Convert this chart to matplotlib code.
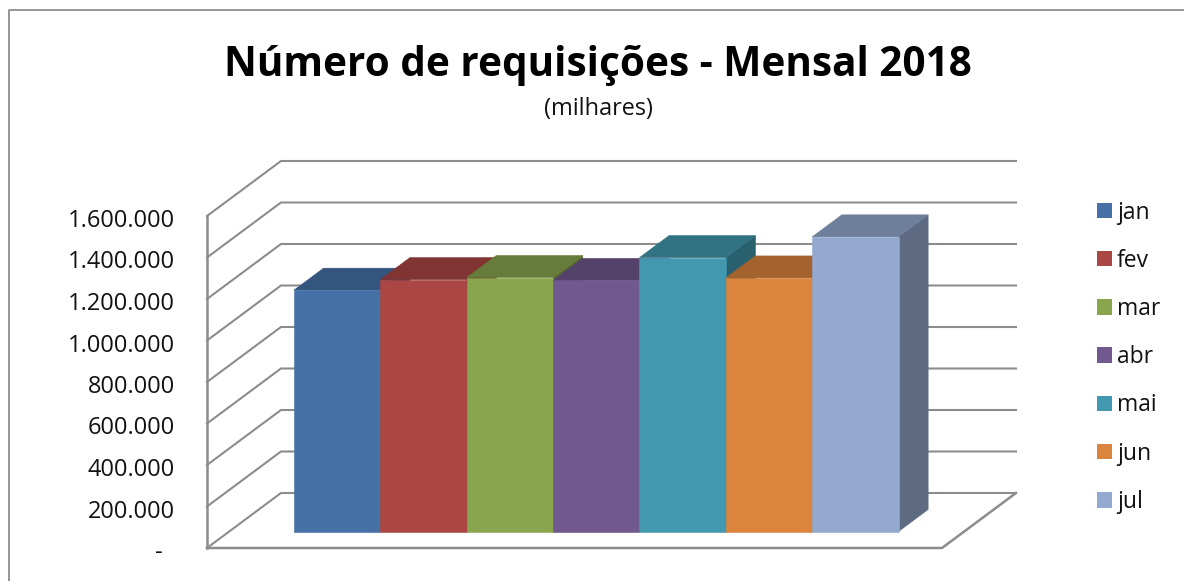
import matplotlib
matplotlib.use("Agg")

import matplotlib.pyplot as plt
from matplotlib import transforms as mtrans
from matplotlib.colors import to_rgb
from matplotlib.lines import Line2D
from matplotlib.patches import Patch, Polygon

months = ["jan", "fev", "mar", "abr", "mai", "jun", "jul"]
requests = [1163000, 1214000, 1224000, 1210000, 1320000, 1222000, 1420000]
colors = ["#4571A6", "#AA4643", "#89A54E", "#71588F", "#4198AF", "#DB843D", "#93A9CF"]
ticks = [0, 200000, 400000, 600000, 800000, 1000000, 1200000, 1400000, 1600000]
tick_labels = ["-  ", "200.000", "400.000", "600.000", "800.000", "1.000.000",
               "1.200.000", "1.400.000", "1.600.000"]

W, H = 1184, 581
GRID = "#8C8C8C"

# oblique depth of the fake 3d box, in data units per full floor depth
DEPTH_X = 74 / 86.4
DEPTH_Y = 55 / 41.5 * 200000
BAR_FRONT = 0.30
BAR_BACK = 0.70

plt.rcParams["font.family"] = ["Open Sans", "DejaVu Sans"]


def shade(color, factor):
    return tuple(c * factor for c in to_rgb(color))


def at_depth(x, y, depth):
    return x + depth * DEPTH_X, y + depth * DEPTH_Y


fig = plt.figure(figsize=(W / 100, H / 100), dpi=100)
ax = fig.add_axes([207 / W, (H - 548) / H, (942 - 207) / W, (548 - 216) / H])
ax.set_xlim(-0.75, 7.76)
ax.set_ylim(0, 1600000)
for spine in ax.spines.values():
    spine.set_visible(False)
ax.set_xticks([])
ax.set_yticks(ticks)
ax.set_yticklabels(tick_labels)
ax.tick_params(axis="y", length=0, pad=23, labelsize=17, labelcolor="#111111")
ax.patch.set_visible(False)

# labels sit a little lower than the gridlines
down = mtrans.ScaledTranslation(0, -2 / 100, fig.dpi_scale_trans)
for label in ax.get_yticklabels():
    label.set_transform(label.get_transform() + down)

x0, x1 = ax.get_xlim()

# outer frame, cut off by the picture on the right and at the bottom
fig.add_artist(Line2D([8.5 / W, 8.5 / W, 1], [0, (H - 9.5) / H, (H - 9.5) / H],
                      color="#8E8E8E", lw=1.3))

# walls
for t in ticks[1:]:
    xb, yb = at_depth(x0, t, 1)
    ax.plot([x0, xb, at_depth(x1, t, 1)[0]], [t, yb, yb], color=GRID, lw=1.5,
            clip_on=False, zorder=1, solid_joinstyle="miter")
xb, yb = at_depth(x0, 0, 1)
ax.plot([x0, xb, at_depth(x1, 0, 1)[0]], [0, yb, yb], color=GRID, lw=1.5,
        clip_on=False, zorder=1)
xr, yr = at_depth(x1, 0, 1)
ax.plot([x0, x1, xr], [0, 0, yr], color=GRID, lw=1.8, clip_on=False, zorder=1)
ax.plot([x0, x0], [0, 1600000], color=GRID, lw=1.8, clip_on=False, zorder=1,
        solid_capstyle="projecting")

# bars, left to right so each one covers the side of the previous one
for i, (value, color) in enumerate(zip(requests, colors)):
    left, right = i, i + 1
    fx, base = at_depth(0, 0, BAR_FRONT)
    corners_top = [at_depth(left, value, BAR_FRONT), at_depth(right, value, BAR_FRONT),
                   at_depth(right, value, BAR_BACK), at_depth(left, value, BAR_BACK)]
    corners_side = [at_depth(right, 0, BAR_FRONT), at_depth(right, value, BAR_FRONT),
                    at_depth(right, value, BAR_BACK), at_depth(right, 0, BAR_BACK)]
    z = 3 + i
    ax.add_patch(Polygon(corners_side, facecolor=shade(color, 0.63),
                         edgecolor=shade(color, 0.63), lw=0.4, clip_on=False, zorder=z))
    ax.add_patch(Polygon(corners_top, facecolor=shade(color, 0.75),
                         edgecolor=shade(color, 0.75), lw=0.4, clip_on=False, zorder=z))
    ax.bar(left + fx, value, width=1, bottom=base, align="edge", color=color,
           edgecolor=color, lw=0.4, clip_on=False, zorder=z)

handles = [Patch(facecolor=c, edgecolor="none", label=m) for m, c in zip(months, colors)]
fig.legend(handles=handles, loc="upper left", bbox_to_anchor=(1092 / W, (H - 196) / H),
           bbox_transform=fig.transFigure, frameon=False, fontsize=16.5,
           labelcolor="#111111", handlelength=0.66, handleheight=0.66,
           handletextpad=0.22, labelspacing=1.057, borderpad=0.2, borderaxespad=0)

fig.text(598 / W, (H - 65) / H, "Número de requisições - Mensal 2018", ha="center",
         va="center", fontsize=29.2, fontweight="bold", color="black")
fig.text(598 / W, (H - 109) / H, "(milhares)", ha="center", va="center", fontsize=16.9,
         color="#111111")

fig.savefig("out.png", dpi=100, facecolor="white")
